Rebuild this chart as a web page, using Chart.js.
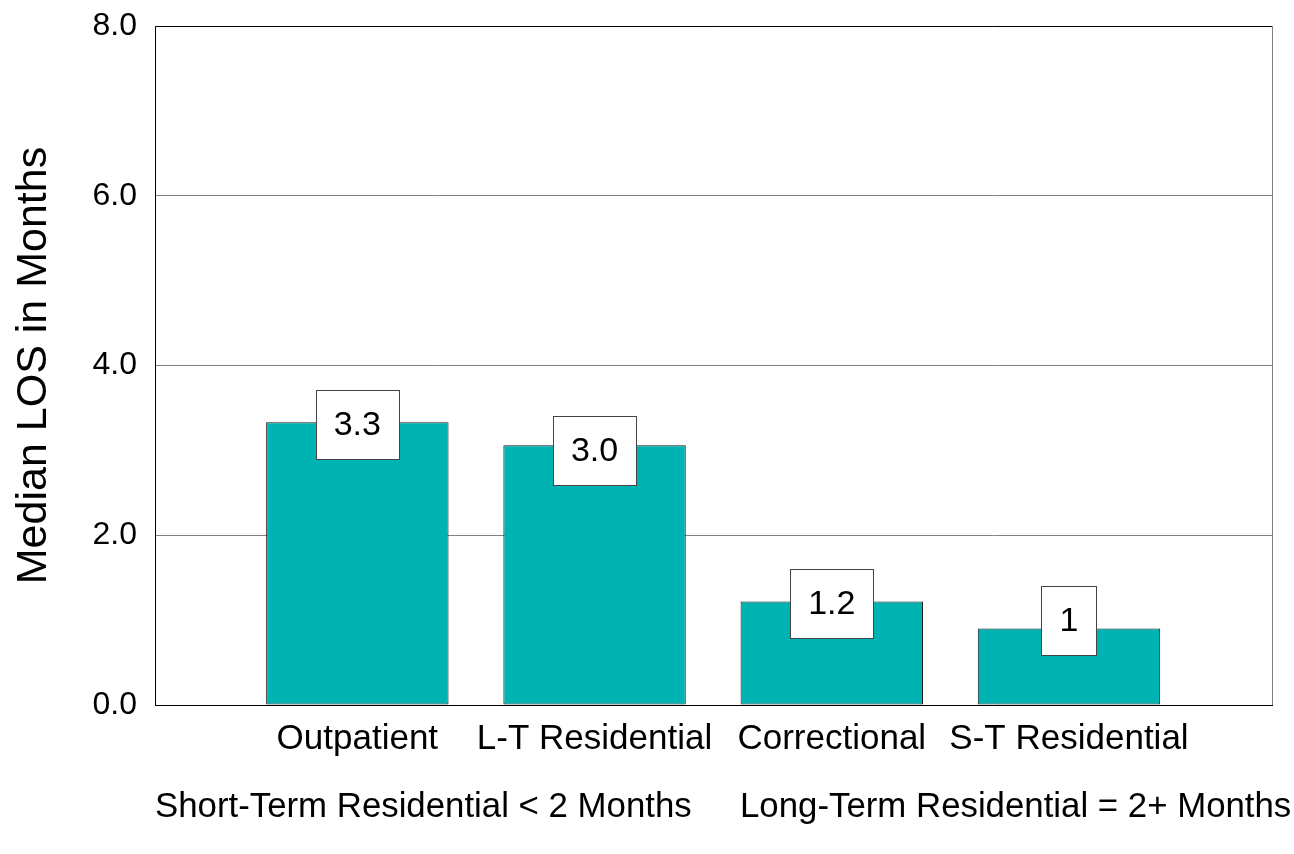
<!DOCTYPE html>
<html>
<head>
<meta charset="utf-8">
<script src="https://cdn.jsdelivr.net/npm/chart.js@4/dist/chart.umd.min.js"></script>
<style>
  html, body { margin: 0; padding: 0; background: #fff; }
  #wrap { width: 1294px; height: 854px; position: relative; }
</style>
</head>
<body>
<div id="wrap"><canvas id="losChart"></canvas></div>
<script>
var categories = ['Outpatient', 'L-T Residential', 'Correctional', 'S-T Residential'];
var losValues = [3.33, 3.06, 1.22, 0.9];
var labelValues = [3.3, 3.0, 1.2, 1];
var labelTexts = ['3.3', '3.0', '1.2', '1'];
var yTicks = [0, 2, 4, 6, 8];
var footnote = 'Short-Term Residential < 2 Months     Long-Term Residential = 2+ Months';

var FONT = "'Liberation Sans', Arial, sans-serif";

// white value boxes, frame round the plot, footnote line
var boxLabels = {
    id: 'boxLabels',
    afterDatasetsDraw: function (chart) {
        var ctx = chart.ctx;
        var area = chart.chartArea;
        var yScale = chart.scales.y;
        var meta = chart.getDatasetMeta(0);

        ctx.save();
        ctx.lineWidth = 1;
        ctx.strokeStyle = '#000';
        ctx.beginPath();
        ctx.moveTo(area.left + 0.5, area.bottom + 0.5);
        ctx.lineTo(area.left + 0.5, area.top + 0.5);
        ctx.lineTo(area.right, area.top + 0.5);
        ctx.moveTo(area.left, area.bottom + 0.5);
        ctx.lineTo(area.right, area.bottom + 0.5);
        ctx.stroke();
        ctx.strokeStyle = '#808080';
        ctx.beginPath();
        ctx.moveTo(area.right - 0.5, area.top);
        ctx.lineTo(area.right - 0.5, area.bottom);
        ctx.stroke();

        ctx.font = '34px ' + FONT;
        ctx.textAlign = 'center';
        ctx.textBaseline = 'middle';
        meta.data.forEach(function (bar, i) {
            var y = yScale.getPixelForValue(labelValues[i]);
            var w = Math.round(ctx.measureText(labelTexts[i]).width + 36);
            var h = 69;
            var x0 = Math.round(bar.x - w / 2) + 0.5;
            var y0 = Math.round(y - h / 2) + 0.5;
            ctx.fillStyle = '#fff';
            ctx.fillRect(x0, y0, w, h);
            ctx.strokeStyle = '#444';
            ctx.strokeRect(x0, y0, w, h);
            ctx.fillStyle = '#000';
            ctx.fillText(labelTexts[i], bar.x, y + 1);
        });

        // footnote under the category labels
        ctx.font = '34.8px ' + FONT;
        ctx.textAlign = 'left';
        ctx.fillText(footnote, area.left, area.bottom + 102);
        ctx.restore();
    }
};

var ctx = document.getElementById('losChart').getContext('2d');
var losChart = new Chart(ctx, {
    type: 'bar',
    data: {
        datasets: [{
            data: categories.map(function (c, i) { return { x: i + 1, y: losValues[i] }; }),
            backgroundColor: '#00B3B3',
            borderColor: '#1a1a1a',
            borderWidth: 1,
            borderSkipped: false,
            categoryPercentage: 1,
            barPercentage: 0.769
        }]
    },
    options: {
        responsive: true,
        maintainAspectRatio: false,
        animation: false,
        layout: { padding: { top: 26, right: 21, bottom: 0, left: 0 } },
        plugins: {
            legend: { display: false },
            tooltip: { enabled: false }
        },
        scales: {
            x: {
                type: 'linear',
                min: 0.147,
                max: 4.86,
                offset: false,
                afterBuildTicks: function (axis) {
                    axis.ticks = categories.map(function (c, i) { return { value: i + 1 }; });
                },
                afterFit: function (axis) {
                    axis.height = 149;
                    axis.paddingLeft = 0;
                    axis.paddingRight = 0;
                },
                grid: { display: false, drawTicks: false },
                border: { display: false },
                ticks: {
                    autoSkip: false,
                    maxRotation: 0,
                    padding: 13,
                    color: '#000',
                    font: { family: FONT, size: 35 },
                    callback: function (v) { return categories[v - 1] || ''; }
                }
            },
            y: {
                min: 0,
                max: 8,
                afterBuildTicks: function (axis) {
                    axis.ticks = yTicks.map(function (v) { return { value: v }; });
                },
                afterFit: function (axis) {
                    axis.width = 155;
                    axis.paddingTop = 0;
                    axis.paddingBottom = 0;
                },
                grid: { color: '#808080', drawTicks: false },
                border: { display: false },
                ticks: {
                    padding: 18,
                    color: '#000',
                    font: { family: FONT, size: 32 },
                    callback: function (v) { return v.toFixed(1); }
                },
                title: {
                    display: true,
                    text: 'Median LOS in Months',
                    color: '#000',
                    font: { family: FONT, size: 43 },
                    padding: { top: 8, bottom: 0 }
                }
            }
        }
    },
    plugins: [boxLabels]
});
</script>
</body>
</html>
